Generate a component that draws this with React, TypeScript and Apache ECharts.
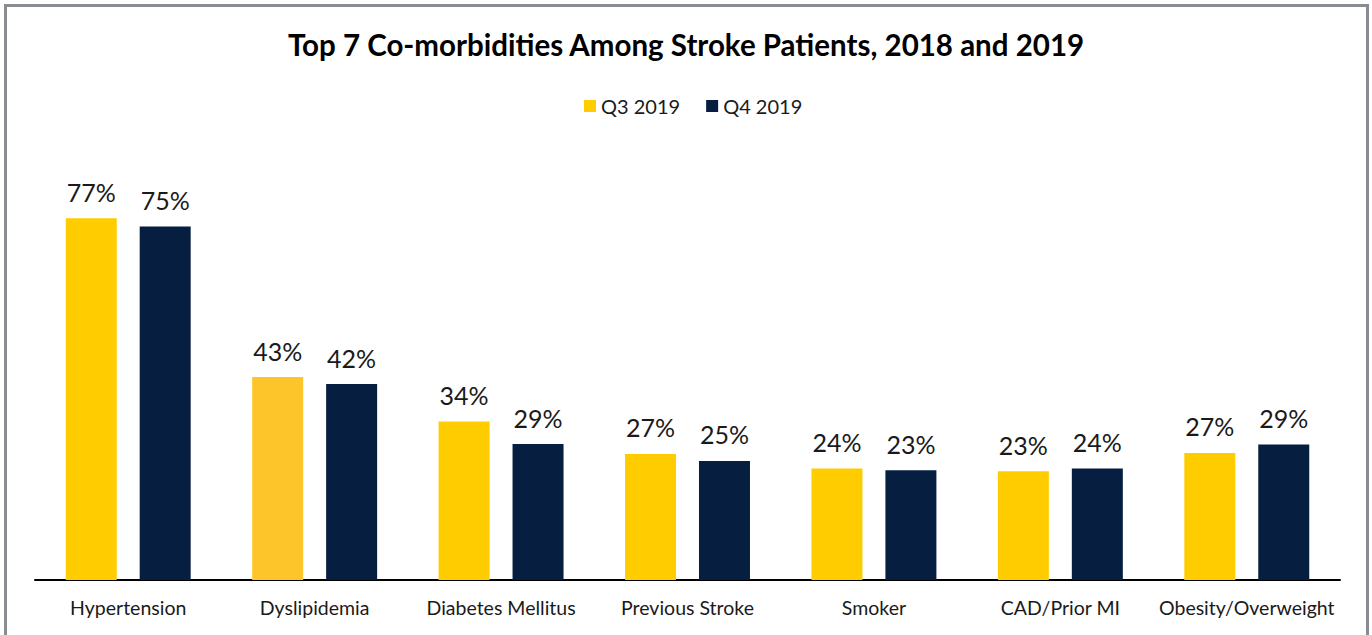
import React, { useEffect, useRef } from "react";
import * as echarts from "echarts";

const categories = [
  "Hypertension",
  "Dyslipidemia",
  "Diabetes Mellitus",
  "Previous Stroke",
  "Smoker",
  "CAD/Prior MI",
  "Obesity/Overweight",
];
const q3Values = [77.2, 43.3, 33.8, 26.9, 23.8, 23.2, 27.1];
const q4Values = [75.4, 41.8, 29.0, 25.4, 23.4, 23.8, 28.9];
const seriesNames = ["Q3 2019", "Q4 2019"];
const titleText = "Top 7 Co-morbidities Among Stroke Patients, 2018 and 2019";

const FONT = "Lato, 'Open Sans', sans-serif";
const YELLOW = "#FFCC00";
const NAVY = "#061F41";

export default function App() {
  const ref = useRef<HTMLDivElement>(null);
  useEffect(() => {
    if (!ref.current) return;
    const chart = echarts.init(ref.current, undefined, { renderer: "svg" });
    const label = {
      show: true,
      position: "top",
      distance: 14,
      fontFamily: FONT,
      fontSize: 25,
      color: "#1a1a1a",
      formatter: (p: any) => Math.round(p.value) + "%",
    };
    chart.setOption({
      animation: false,
      backgroundColor: "#ffffff",
      textStyle: { fontFamily: FONT },
      title: {
        text: titleText,
        left: "center",
        top: 24,
        textStyle: { fontFamily: FONT, fontSize: 29.5, fontWeight: "bold", color: "#000" },
      },
      legend: {
        data: seriesNames,
        top: 91,
        left: 579,
        itemWidth: 12,
        itemHeight: 12,
        itemGap: 26,
        icon: "rect",
        textStyle: { fontFamily: FONT, fontSize: 20, color: "#1a1a1a" },
      },
      grid: { left: 35, right: 32, top: 205, bottom: 55, containLabel: false },
      xAxis: {
        type: "category",
        data: categories,
        axisLine: { lineStyle: { color: "#000", width: 2 } },
        axisTick: { show: false },
        axisLabel: { interval: 0, fontFamily: FONT, fontSize: 19.5, color: "#1a1a1a", margin: 17 },
      },
      yAxis: {
        type: "value",
        min: 0,
        max: 80,
        show: false,
        splitLine: { show: false },
      },
      graphic: [
        {
          type: "rect",
          shape: { x: 5.5, y: 5.5, width: 1362, height: 660 },
          style: { fill: "none", stroke: "#898c92", lineWidth: 3 },
          z: 100,
        },
      ],
      series: [
        {
          name: seriesNames[0],
          type: "bar",
          data: q3Values.map((v, i) =>
            i === 1 ? { value: v, itemStyle: { color: "#FEC52A" } } : v
          ),
          barWidth: 51,
          barGap: "45%",
          itemStyle: { color: YELLOW },
          label,
        },
        {
          name: seriesNames[1],
          type: "bar",
          data: q4Values,
          barWidth: 51,
          itemStyle: { color: NAVY },
          label,
        },
      ],
    });
    return () => chart.dispose();
  }, []);
  return (
    <div
      ref={ref}
      style={{ position: "fixed", left: 0, top: 0, width: 1372, height: 635 }}
    />
  );
}
